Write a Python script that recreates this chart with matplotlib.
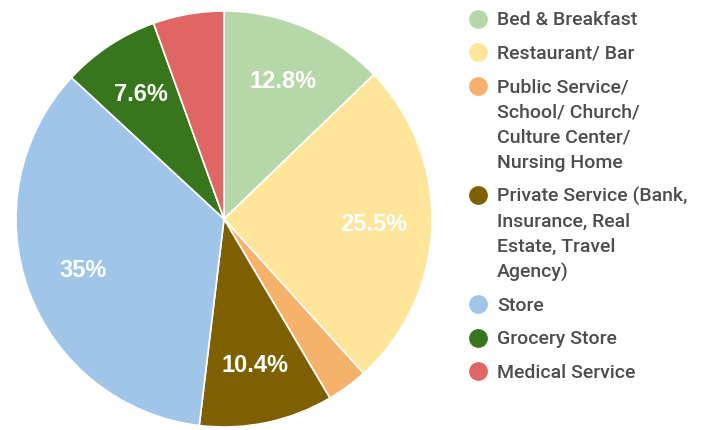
import matplotlib.pyplot as plt

# Business types, share of locations (%)
labels = ["Bed & Breakfast", "Restaurant/ Bar",
          "Public Service/\nSchool/ Church/\nCulture Center/\nNursing Home",
          "Private Service (Bank,\nInsurance, Real\nEstate, Travel\nAgency)",
          "Store", "Grocery Store", "Medical Service"]
shares = [12.8, 25.5, 3.2, 10.4, 35.0, 7.6, 5.5]
colors = ["#b6d7a8", "#ffe599", "#f6b26b", "#7f6000", "#9fc5e8", "#38761d", "#e06666"]

W, H = 711, 430
fig = plt.figure(figsize=(W / 100, H / 100), dpi=100)

# pie placed by pixel centre and radius
cx, cy, r = 224, 219, 208
ax = fig.add_axes([(cx - r) / W, (H - cy - r) / H, 2 * r / W, 2 * r / H])


def pct(v):
    if v < 7:
        return ""
    return "%g%%" % v


wedges, texts, autotexts = ax.pie(
    shares, colors=colors, startangle=90, counterclock=False,
    autopct=lambda p: pct(round(p, 1)), pctdistance=0.72,
    wedgeprops=dict(edgecolor="white", linewidth=1.2),
    textprops=dict(color="white", fontsize=17, fontweight="bold",
                   family="Liberation Sans"))
ax.set_xlim(-1, 1)
ax.set_ylim(-1, 1)
ax.set_aspect("equal")
ax.axis("off")

# legend drawn by hand so the dot sits on the first line
lx_dot, lx_text = 478, 497
line_step, entry_gap = 25.3, 33.5
y = 18.5
for lab, col in zip(labels, colors):
    lines = lab.split("\n")
    fig.lines.append(plt.Line2D([lx_dot / W], [1 - y / H], transform=fig.transFigure,
                                marker="o", ms=12.5, color=col, mec=col, ls=""))
    for i, ln in enumerate(lines):
        fig.text(lx_text / W, 1 - (y + i * line_step + 6.5) / H, ln,
                 fontsize=14, color="#4d4d4d", va="baseline", ha="left",
                 family="Roboto", fontweight="medium")
    y += (len(lines) - 1) * line_step + entry_gap

fig.savefig("out.png", dpi=100, facecolor="white")
